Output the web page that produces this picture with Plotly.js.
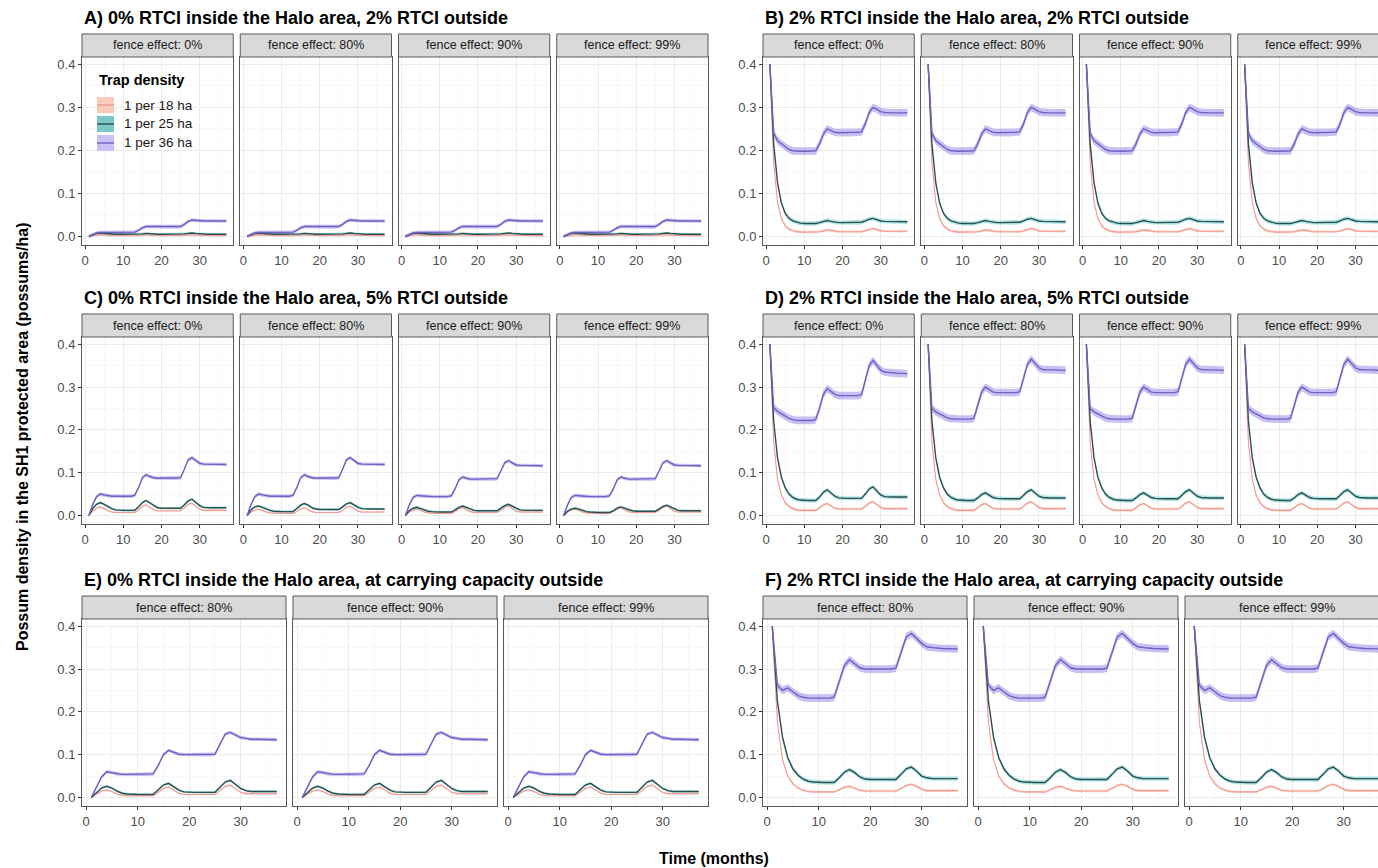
<!DOCTYPE html>
<html>
<head>
<meta charset="utf-8">
<script src="https://cdn.plot.ly/plotly-3.0.1.min.js"></script>
<style>
  html, body { margin: 0; padding: 0; overflow: hidden; background: #ffffff; }
  #chart { width: 1392px; height: 868px; }
</style>
</head>
<body>
<div id="chart"></div>
<script>
// ---------------------------------------------------------------------------
// Possum density in the SH1 protected area over 37 months, by trap density,
// for six RTCI scenarios and several fence effects.
// ---------------------------------------------------------------------------

const months = [1,2,3,4,5,6,7,8,9,10,11,12,13,14,15,16,17,18,19,20,21,22,23,24,25,26,27,28,29,30,31,32,33,34,35,36,37];

const trapDensity = ['1 per 18 ha', '1 per 25 ha', '1 per 36 ha'];
const fenceLabels = ['fence effect: 0%', 'fence effect: 80%', 'fence effect: 90%', 'fence effect: 99%'];
const scenarioTitles = [
  'A) 0% RTCI inside the Halo area, 2% RTCI outside',
  'B) 2% RTCI inside the Halo area, 2% RTCI outside',
  'C) 0% RTCI inside the Halo area, 5% RTCI outside',
  'D) 2% RTCI inside the Halo area, 5% RTCI outside',
  'E) 0% RTCI inside the Halo area, at carrying capacity outside',
  'F) 2% RTCI inside the Halo area, at carrying capacity outside'
];
const yTickValues = [0, 0.1, 0.2, 0.3, 0.4];
const xTickValues = [0, 10, 20, 30];

// Half-width of the uncertainty ribbon (possums/ha), per trap density
const bandOutsideOnly = [0.002, 0.003, 0.004];
const bandInside = [0.003, 0.005, 0.009];

// A) 0% inside, 2% outside
const A18 = [0.000,0.002,0.003,0.004,0.003,0.003,0.002,0.002,0.002,0.002, 0.002,0.002,0.002,0.002,0.003,0.004,0.003,0.002,0.002,0.002, 0.002,0.002,0.002,0.002,0.002,0.003,0.004,0.004,0.003,0.003, 0.002,0.002,0.002,0.002,0.002,0.002,0.002];
const A25 = [0.000,0.004,0.007,0.008,0.007,0.006,0.005,0.005,0.005,0.005, 0.005,0.005,0.005,0.005,0.006,0.007,0.006,0.005,0.005,0.005, 0.005,0.005,0.005,0.005,0.005,0.006,0.007,0.008,0.007,0.006, 0.005,0.005,0.005,0.005,0.005,0.005,0.005];
const A36 = [0.000,0.004,0.008,0.009,0.009,0.009,0.009,0.009,0.009,0.009, 0.009,0.009,0.010,0.014,0.020,0.023,0.023,0.022,0.022,0.022, 0.022,0.022,0.022,0.022,0.023,0.028,0.035,0.038,0.037,0.036, 0.036,0.036,0.036,0.036,0.036,0.036,0.036];

// B) 2% inside, 2% outside
const B18 = [0.400,0.170,0.080,0.042,0.025,0.017,0.013,0.011,0.010,0.010, 0.010,0.010,0.010,0.011,0.013,0.015,0.014,0.012,0.011,0.011, 0.011,0.011,0.011,0.011,0.011,0.013,0.016,0.018,0.016,0.013, 0.012,0.012,0.012,0.012,0.012,0.012,0.012];
const B25 = [0.400,0.215,0.125,0.078,0.054,0.042,0.036,0.033,0.031,0.030, 0.030,0.030,0.030,0.032,0.035,0.037,0.035,0.033,0.032,0.032, 0.032,0.032,0.032,0.032,0.033,0.036,0.040,0.042,0.039,0.036, 0.035,0.035,0.034,0.034,0.034,0.034,0.034];
const B36 = [0.400,0.240,0.222,0.215,0.208,0.202,0.199,0.198,0.198,0.198, 0.198,0.198,0.199,0.215,0.238,0.250,0.246,0.242,0.241,0.241, 0.241,0.241,0.241,0.242,0.243,0.262,0.288,0.300,0.295,0.290, 0.288,0.287,0.287,0.287,0.287,0.287,0.287];

// C) 0% inside, 5% outside
const C18_f0 = [0.000,0.010,0.017,0.020,0.016,0.011,0.008,0.007,0.007,0.007, 0.007,0.007,0.007,0.013,0.021,0.025,0.019,0.013,0.011,0.011, 0.011,0.011,0.011,0.011,0.011,0.018,0.026,0.029,0.022,0.015, 0.012,0.012,0.012,0.012,0.012,0.012,0.012];
const C18_fx = [0.000,0.008,0.013,0.015,0.012,0.008,0.006,0.005,0.005,0.005, 0.005,0.005,0.005,0.009,0.015,0.018,0.014,0.009,0.007,0.007, 0.007,0.007,0.007,0.007,0.007,0.012,0.019,0.022,0.016,0.010, 0.008,0.008,0.008,0.008,0.008,0.008,0.008];
const C25_f0 = [0.000,0.016,0.026,0.030,0.026,0.020,0.016,0.013,0.012,0.012, 0.012,0.012,0.012,0.020,0.030,0.035,0.029,0.022,0.018,0.017, 0.017,0.017,0.017,0.017,0.017,0.025,0.034,0.038,0.031,0.023, 0.019,0.018,0.018,0.018,0.018,0.018,0.018];
const C25_f80 = [0.000,0.013,0.020,0.022,0.019,0.015,0.012,0.010,0.009,0.009, 0.009,0.009,0.009,0.016,0.024,0.028,0.024,0.018,0.015,0.014, 0.014,0.014,0.014,0.014,0.014,0.020,0.027,0.030,0.025,0.019, 0.016,0.015,0.015,0.015,0.015,0.015,0.015];
const C25_f90 = [0.000,0.011,0.017,0.019,0.016,0.013,0.010,0.009,0.008,0.008, 0.008,0.008,0.008,0.013,0.019,0.022,0.019,0.015,0.012,0.011, 0.011,0.011,0.011,0.011,0.011,0.017,0.023,0.026,0.021,0.016, 0.013,0.012,0.012,0.012,0.012,0.012,0.012];
const C25_f99 = [0.000,0.010,0.015,0.017,0.015,0.012,0.009,0.008,0.007,0.007, 0.007,0.007,0.007,0.011,0.017,0.020,0.017,0.013,0.011,0.010, 0.010,0.010,0.010,0.010,0.010,0.015,0.021,0.024,0.020,0.015, 0.012,0.011,0.011,0.011,0.011,0.011,0.011];
const C36_low = [0.000,0.025,0.044,0.050,0.048,0.046,0.045,0.045,0.045,0.045, 0.045,0.045,0.047,0.065,0.088,0.095,0.091,0.088,0.087,0.087, 0.087,0.087,0.087,0.087,0.088,0.108,0.130,0.135,0.128,0.122, 0.120,0.120,0.120,0.120,0.120,0.120,0.119];
const C36_high = [0.000,0.024,0.042,0.047,0.046,0.045,0.044,0.044,0.044,0.044, 0.044,0.044,0.046,0.062,0.083,0.090,0.087,0.085,0.085,0.085, 0.085,0.085,0.085,0.085,0.086,0.104,0.123,0.128,0.122,0.118, 0.117,0.117,0.117,0.117,0.117,0.117,0.116];

// D) 2% inside, 5% outside
const D18 = [0.400,0.170,0.085,0.048,0.030,0.021,0.016,0.013,0.012,0.012, 0.012,0.012,0.012,0.018,0.025,0.028,0.023,0.017,0.015,0.015, 0.015,0.015,0.015,0.015,0.015,0.021,0.029,0.032,0.026,0.019, 0.016,0.016,0.016,0.016,0.016,0.016,0.016];
const D25_f0 = [0.400,0.220,0.135,0.090,0.065,0.050,0.042,0.038,0.036,0.035, 0.035,0.035,0.035,0.043,0.054,0.060,0.053,0.045,0.041,0.040, 0.040,0.040,0.040,0.040,0.040,0.050,0.062,0.067,0.058,0.048, 0.044,0.043,0.043,0.043,0.043,0.043,0.043];
const D25_fx = [0.400,0.220,0.135,0.090,0.065,0.050,0.042,0.038,0.036,0.035, 0.035,0.035,0.035,0.041,0.049,0.053,0.048,0.042,0.040,0.039, 0.039,0.039,0.039,0.039,0.039,0.047,0.056,0.060,0.053,0.045, 0.042,0.041,0.041,0.041,0.041,0.041,0.041];
const D36_f0 = [0.400,0.252,0.243,0.238,0.232,0.227,0.224,0.222,0.222,0.222, 0.222,0.222,0.224,0.250,0.283,0.296,0.290,0.283,0.280,0.280, 0.280,0.280,0.280,0.280,0.282,0.315,0.350,0.362,0.352,0.340, 0.335,0.334,0.333,0.332,0.332,0.332,0.331];
const D36_fx = [0.400,0.250,0.242,0.237,0.232,0.228,0.226,0.225,0.225,0.225, 0.225,0.225,0.227,0.255,0.288,0.300,0.294,0.288,0.287,0.287, 0.287,0.287,0.287,0.287,0.289,0.320,0.353,0.365,0.356,0.345, 0.341,0.340,0.340,0.340,0.340,0.340,0.339];

// E) 0% inside, carrying capacity outside
const E18 = [0.000,0.008,0.015,0.018,0.014,0.008,0.005,0.004,0.004,0.004, 0.004,0.004,0.004,0.012,0.021,0.025,0.018,0.010,0.007,0.007, 0.007,0.007,0.007,0.007,0.007,0.016,0.026,0.029,0.021,0.012, 0.009,0.009,0.009,0.009,0.009,0.009,0.009];
const E25 = [0.000,0.012,0.022,0.026,0.022,0.015,0.010,0.008,0.007,0.007, 0.007,0.007,0.007,0.018,0.029,0.033,0.026,0.017,0.013,0.012, 0.012,0.012,0.012,0.012,0.012,0.024,0.036,0.040,0.031,0.021, 0.016,0.014,0.014,0.014,0.014,0.014,0.014];
const E36 = [0.000,0.025,0.048,0.060,0.058,0.055,0.054,0.054,0.054,0.054, 0.054,0.054,0.055,0.075,0.100,0.110,0.106,0.101,0.100,0.100, 0.100,0.100,0.100,0.100,0.101,0.125,0.148,0.152,0.146,0.140, 0.138,0.136,0.136,0.136,0.136,0.136,0.135];

// F) 2% inside, carrying capacity outside
const F18 = [0.400,0.175,0.088,0.050,0.032,0.022,0.017,0.014,0.013,0.013, 0.013,0.013,0.013,0.018,0.024,0.026,0.022,0.017,0.015,0.015, 0.015,0.015,0.015,0.015,0.015,0.021,0.028,0.031,0.026,0.019, 0.016,0.016,0.016,0.016,0.016,0.016,0.016];
const F25 = [0.400,0.225,0.140,0.093,0.067,0.052,0.043,0.038,0.036,0.035, 0.035,0.035,0.035,0.046,0.059,0.065,0.058,0.048,0.043,0.042, 0.042,0.042,0.042,0.042,0.042,0.054,0.067,0.071,0.062,0.050, 0.046,0.044,0.044,0.044,0.044,0.044,0.044];
const F36 = [0.400,0.262,0.250,0.256,0.247,0.238,0.234,0.232,0.232,0.232, 0.232,0.232,0.234,0.270,0.308,0.322,0.312,0.303,0.300,0.300, 0.300,0.300,0.300,0.300,0.302,0.340,0.375,0.383,0.372,0.360, 0.352,0.350,0.349,0.348,0.348,0.348,0.347];

// Scenario facets: which fence effects are shown and the series of each panel
const facets = [
  { title: scenarioTitles[0], col: 0, row: 0, fences: [0, 1, 2, 3], band: bandOutsideOnly,
    series: [[A18, A25, A36], [A18, A25, A36], [A18, A25, A36], [A18, A25, A36]] },
  { title: scenarioTitles[1], col: 1, row: 0, fences: [0, 1, 2, 3], band: bandInside,
    series: [[B18, B25, B36], [B18, B25, B36], [B18, B25, B36], [B18, B25, B36]] },
  { title: scenarioTitles[2], col: 0, row: 1, fences: [0, 1, 2, 3], band: bandOutsideOnly,
    series: [[C18_f0, C25_f0, C36_low], [C18_fx, C25_f80, C36_low], [C18_fx, C25_f90, C36_high], [C18_fx, C25_f99, C36_high]] },
  { title: scenarioTitles[3], col: 1, row: 1, fences: [0, 1, 2, 3], band: bandInside,
    series: [[D18, D25_f0, D36_f0], [D18, D25_fx, D36_fx], [D18, D25_fx, D36_fx], [D18, D25_fx, D36_fx]] },
  { title: scenarioTitles[4], col: 0, row: 2, fences: [1, 2, 3], band: bandOutsideOnly,
    series: [[E18, E25, E36], [E18, E25, E36], [E18, E25, E36]] },
  { title: scenarioTitles[5], col: 1, row: 2, fences: [1, 2, 3], band: bandInside,
    series: [[F18, F25, F36], [F18, F25, F36], [F18, F25, F36]] }
];

// ---------------------------------------------------------------------------
// Styling and page geometry (pixels)
// ---------------------------------------------------------------------------
const W = 1392, H = 868;
const FONT = 'Liberation Sans, Arial, Helvetica, sans-serif';
const ribbonFill = ['rgba(250,140,105,0.33)', 'rgba(0,175,175,0.30)', 'rgba(125,105,230,0.42)'];
const lineColour = ['#f09a92', '#2d4f50', '#6d63c0'];
const legendKeyFill = ['#fccab8', '#7cc7c7', '#c9c1f4'];
const frameColour = '#595959';

const groupLeft = [82, 763];
const groupWidth = 626;
const panelGap = 7;
const panelTop = [57, 337, 619];
const panelBottom = [245, 524, 806];
const stripHeight = 23;
const xRange = [-0.8, 38.8];
const yRange = [-0.0199, 0.4169];

const px = v => v / W;
const py = v => 1 - v / H;

const data = [];
const layout = {
  width: W, height: H,
  margin: { l: 0, r: 0, t: 0, b: 0, pad: 0 },
  paper_bgcolor: '#ffffff', plot_bgcolor: '#ffffff',
  showlegend: false,
  font: { family: FONT, color: '#1a1a1a' },
  shapes: [], annotations: []
};

let k = 0;
facets.forEach(f => {
  const n = f.fences.length;
  const pw = (groupWidth - panelGap * (n - 1)) / n;
  const top = panelTop[f.row], bottom = panelBottom[f.row];

  // facet title
  layout.annotations.push({
    text: f.title, xref: 'paper', yref: 'paper',
    x: px(groupLeft[f.col]), y: py(top - stripHeight - 16),
    xanchor: 'left', yanchor: 'middle', showarrow: false,
    font: { family: FONT, size: 18, color: '#000000', weight: 700 }
  });

  f.fences.forEach((fenceIdx, j) => {
    k += 1;
    const sfx = k === 1 ? '' : String(k);
    const x0 = groupLeft[f.col] + j * (pw + panelGap), x1 = x0 + pw;
    const firstInRow = j === 0;

    layout['xaxis' + sfx] = {
      domain: [px(x0), px(x1)], anchor: 'y' + sfx, range: xRange,
      tickmode: 'array', tickvals: xTickValues,
      ticks: 'outside', ticklen: 3, tickwidth: 1, tickcolor: '#333333',
      tickfont: { family: FONT, size: 13, color: '#4d4d4d' },
      showgrid: true, gridcolor: '#ebebeb', gridwidth: 1,
      minor: { tickmode: 'array', tickvals: [5, 15, 25, 35], showgrid: true, gridcolor: '#f3f3f3', gridwidth: 0.6, ticks: '' },
      showline: true, mirror: true, linecolor: frameColour, linewidth: 1,
      zeroline: false, fixedrange: true
    };
    layout['yaxis' + sfx] = {
      domain: [py(bottom), py(top)], anchor: 'x' + sfx, range: yRange,
      tickmode: 'array', tickvals: yTickValues, tickformat: '.1f',
      ticks: firstInRow ? 'outside' : '', ticklen: 3, tickwidth: 1, tickcolor: '#333333',
      showticklabels: firstInRow,
      tickfont: { family: FONT, size: 13, color: '#4d4d4d' },
      showgrid: true, gridcolor: '#ebebeb', gridwidth: 1,
      minor: { tickmode: 'array', tickvals: [0.05, 0.15, 0.25, 0.35], showgrid: true, gridcolor: '#f3f3f3', gridwidth: 0.6, ticks: '' },
      showline: true, mirror: true, linecolor: frameColour, linewidth: 1,
      zeroline: false, fixedrange: true
    };

    // facet strip
    layout.shapes.push({
      type: 'rect', xref: 'paper', yref: 'paper',
      x0: px(x0), x1: px(x1), y0: py(top), y1: py(top - stripHeight),
      fillcolor: '#d9d9d9', line: { color: frameColour, width: 1 }, layer: 'above'
    });
    layout.annotations.push({
      text: fenceLabels[fenceIdx], xref: 'paper', yref: 'paper',
      x: px((x0 + x1) / 2), y: py(top - stripHeight / 2),
      xanchor: 'center', yanchor: 'middle', showarrow: false,
      font: { family: FONT, size: 12.5, color: '#1a1a1a' }
    });

    const series = f.series[j];
    // ribbons first, then the lines on top
    series.forEach((vals, s) => {
      const h = f.band[s];
      const upper = vals.map(v => v + h);
      const lower = vals.map(v => v - h);
      data.push({
        type: 'scatter', mode: 'lines', xaxis: 'x' + sfx, yaxis: 'y' + sfx,
        x: months.concat(months.slice().reverse()),
        y: upper.concat(lower.slice().reverse()),
        fill: 'toself', fillcolor: ribbonFill[s], line: { width: 0 },
        hoverinfo: 'skip', showlegend: false, name: trapDensity[s]
      });
    });
    series.forEach((vals, s) => {
      data.push({
        type: 'scatter', mode: 'lines', xaxis: 'x' + sfx, yaxis: 'y' + sfx,
        x: months, y: vals, name: trapDensity[s],
        line: { color: lineColour[s], width: s === 0 ? 1.1 : 1.4 },
        showlegend: false
      });
    });
  });
});

// Legend (Trap density) in the first panel
layout.annotations.push({
  text: 'Trap density', xref: 'paper', yref: 'paper',
  x: px(97), y: py(80), xanchor: 'left', yanchor: 'middle', showarrow: false,
  font: { family: FONT, size: 14.5, color: '#000000', weight: 700 }
});
trapDensity.forEach((label, s) => {
  const cy = 105 + s * 19;
  layout.shapes.push({
    type: 'rect', xref: 'paper', yref: 'paper',
    x0: px(97), x1: px(114), y0: py(cy + 8), y1: py(cy - 8),
    fillcolor: legendKeyFill[s], line: { width: 0 }
  });
  layout.shapes.push({
    type: 'line', xref: 'paper', yref: 'paper',
    x0: px(97), x1: px(114), y0: py(cy), y1: py(cy),
    line: { color: lineColour[s], width: 1.4 }
  });
  layout.annotations.push({
    text: label, xref: 'paper', yref: 'paper',
    x: px(122), y: py(cy), xanchor: 'left', yanchor: 'middle', showarrow: false,
    font: { family: FONT, size: 13.5, color: '#1a1a1a' }
  });
});

// Shared axis titles
layout.annotations.push({
  text: 'Time (months)', xref: 'paper', yref: 'paper',
  x: px(714), y: py(858), xanchor: 'center', yanchor: 'middle', showarrow: false,
  font: { family: FONT, size: 16, color: '#000000', weight: 700 }
});
layout.annotations.push({
  text: 'Possum density in the SH1 protected area (possums/ha)', xref: 'paper', yref: 'paper',
  x: px(22), y: py(437), xanchor: 'center', yanchor: 'middle', showarrow: false, textangle: -90,
  font: { family: FONT, size: 16, color: '#000000', weight: 700 }
});

Plotly.newPlot('chart', data, layout, { staticPlot: true, displayModeBar: false });
</script>
</body>
</html>
